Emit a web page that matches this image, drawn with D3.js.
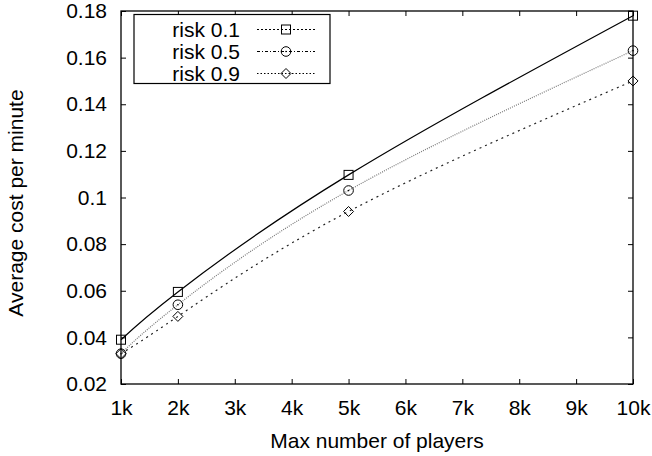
<!DOCTYPE html>
<html><head><meta charset="utf-8">
<script src="https://cdn.jsdelivr.net/npm/d3@7"></script>
<style>
html,body{margin:0;padding:0;background:#fff;}
svg{display:block;font-family:"Liberation Sans",Arial,Helvetica,sans-serif;}
</style></head>
<body>
<svg id="c" width="652" height="456"></svg>
<script>
const players = [1000, 2000, 5000, 10000];
const risk01 = [0.039, 0.0595, 0.1097, 0.178];
const risk05 = [0.033, 0.054, 0.103, 0.163];
const risk09 = [0.033, 0.049, 0.094, 0.150];
const seriesNames = ["risk 0.1", "risk 0.5", "risk 0.9"];
const xTicks = [1000,2000,3000,4000,5000,6000,7000,8000,9000,10000];
const xTickLabels = ["1k","2k","3k","4k","5k","6k","7k","8k","9k","10k"];
const yTicks = [0.02,0.04,0.06,0.08,0.1,0.12,0.14,0.16,0.18];
const yTickLabels = ["0.02","0.04","0.06","0.08","0.1","0.12","0.14","0.16","0.18"];

const svg = d3.select("#c");
const L = 121, R = 633, T = 11, B = 384;
const x = d3.scaleLinear().domain([1000, 10000]).range([L, R]);
const y = d3.scaleLinear().domain([0.02, 0.18]).range([B, T]);
const fs = 21;

const styles = [
  {stroke:"#000", width:1.2, dash:null, legDash:"2,2", marker:"square"},
  {stroke:"#777", width:1.2, dash:"1,1.2", legDash:"3,2,1,2", marker:"circle"},
  {stroke:"#222", width:1.2, dash:"2,4", legDash:"1.5,2", marker:"diamond"}
];
const allSeries = [risk01, risk05, risk09];

// axes
const ax = svg.append("g");
ax.append("g").attr("transform",`translate(0,${B})`)
  .call(d3.axisBottom(x).tickValues(xTicks).tickFormat((d,i)=>xTickLabels[i]).tickSizeInner(-5).tickSizeOuter(0).tickPadding(16));
ax.append("g").attr("transform",`translate(0,${T})`)
  .call(d3.axisTop(x).tickValues(xTicks).tickFormat("").tickSizeInner(-5).tickSizeOuter(0));
ax.append("g").attr("transform",`translate(${L},0)`)
  .call(d3.axisLeft(y).tickValues(yTicks).tickFormat((d,i)=>yTickLabels[i]).tickSizeInner(-5).tickSizeOuter(0).tickPadding(14));
ax.append("g").attr("transform",`translate(${R},0)`)
  .call(d3.axisRight(y).tickValues(yTicks).tickFormat("").tickSizeInner(-5).tickSizeOuter(0));
ax.selectAll(".domain").remove();
ax.selectAll("line").attr("stroke","#000").attr("stroke-width",1);
ax.selectAll("text").attr("font-size",fs).attr("fill","#000").attr("font-family","Liberation Sans, Arial, sans-serif");
svg.append("rect").attr("x",L).attr("y",T).attr("width",R-L).attr("height",B-T)
  .attr("fill","none").attr("stroke","#000").attr("stroke-width",1.3);

// curves
const line = d3.line().x((d,i)=>x(players[i])).y(d=>y(d)).curve(d3.curveNatural);
function marker(g, type, cx, cy){
  if(type==="square"){
    g.append("rect").attr("x",cx-4.5).attr("y",cy-4.5).attr("width",9).attr("height",9)
      .attr("fill","none").attr("stroke","#000").attr("stroke-width",1);
  } else if(type==="circle"){
    g.append("circle").attr("cx",cx).attr("cy",cy).attr("r",4.8).attr("fill","none").attr("stroke","#000").attr("stroke-width",1);
    g.append("circle").attr("cx",cx).attr("cy",cy).attr("r",0.8).attr("fill","#000");
  } else {
    g.append("path").attr("d",`M${cx},${cy-5}L${cx+5},${cy}L${cx},${cy+5}L${cx-5},${cy}Z`)
      .attr("fill","none").attr("stroke","#000").attr("stroke-width",1);
  }
}
allSeries.forEach((s,k)=>{
  const st = styles[k];
  svg.append("path").datum(s).attr("d",line).attr("fill","none")
    .attr("stroke",st.stroke).attr("stroke-width",st.width).attr("stroke-dasharray",st.dash);
  const g = svg.append("g");
  s.forEach((v,i)=>marker(g, st.marker, x(players[i]), y(v)));
});

// legend
const lg = svg.append("g");
lg.append("rect").attr("x",134).attr("y",14.5).attr("width",196).attr("height",69)
  .attr("fill","#fff").attr("stroke","#000").attr("stroke-width",1.2);
seriesNames.forEach((n,k)=>{
  const cy = 29.5 + k*22;
  const st = styles[k];
  lg.append("text").attr("x",240).attr("y",cy).attr("dy","0.36em").attr("text-anchor","end")
    .attr("font-size",21).text(n);
  lg.append("line").attr("x1",257).attr("x2",315).attr("y1",cy).attr("y2",cy)
    .attr("stroke","#000").attr("stroke-width",1).attr("stroke-dasharray",st.legDash);
  marker(lg, st.marker, 286, cy);
});

// axis titles
svg.append("text").attr("x",(L+R)/2).attr("y",448).attr("text-anchor","middle")
  .attr("font-size",fs).text("Max number of players");
svg.append("text").attr("transform",`translate(23,203) rotate(-90)`).attr("text-anchor","middle")
  .attr("font-size",fs).text("Average cost per minute");
</script>
</body></html>
